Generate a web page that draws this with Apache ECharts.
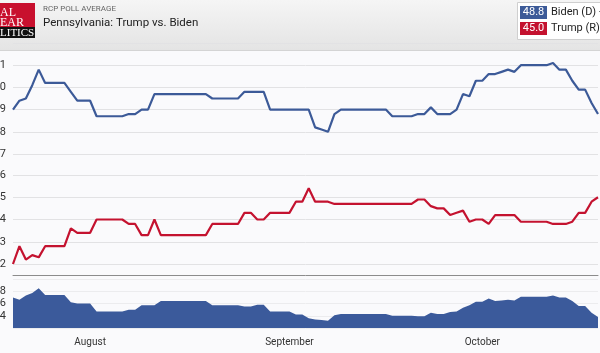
<!DOCTYPE html>
<html>
<head>
<meta charset="utf-8">
<script src="https://cdn.jsdelivr.net/npm/echarts@6/dist/echarts.min.js"></script>
<style>
    html, body { margin: 0; padding: 0; background: #fafafc; }
    #chart { width: 600px; height: 353px; }
</style>
</head>
<body>
<div id="chart"></div>
<script>
// one value per day, starting 2020-07-20
const startDate = "2020-07-20";
const bidenList = [
    49.0, 49.4, 49.5, 50.1, 50.8, 50.2, 50.2, 50.2, 50.2, 49.8,
    49.4, 49.4, 49.4, 48.7, 48.7, 48.7, 48.7, 48.7, 48.8, 48.8,
    49.0, 49.0, 49.7, 49.7, 49.7, 49.7, 49.7, 49.7, 49.7, 49.7,
    49.7, 49.5, 49.5, 49.5, 49.5, 49.5, 49.8, 49.8, 49.8, 49.8,
    49.0, 49.0, 49.0, 49.0, 49.0, 49.0, 49.0, 48.2, 48.1, 48.0,
    48.8, 49.0, 49.0, 49.0, 49.0, 49.0, 49.0, 49.0, 49.0, 48.7,
    48.7, 48.7, 48.7, 48.8, 48.8, 49.1, 48.8, 48.8, 48.8, 49.0,
    49.7, 49.6, 50.3, 50.3, 50.6, 50.6, 50.7, 50.8, 50.7, 51.0,
    51.0, 51.0, 51.0, 51.0, 51.1, 50.8, 50.8, 50.3, 49.9, 49.9,
    49.3, 48.8,
];
const trumpList = [
    42.0, 42.8, 42.2, 42.4, 42.3, 42.8, 42.8, 42.8, 42.8, 43.6,
    43.4, 43.4, 43.4, 44.0, 44.0, 44.0, 44.0, 44.0, 43.8, 43.8,
    43.3, 43.3, 44.0, 43.3, 43.3, 43.3, 43.3, 43.3, 43.3, 43.3,
    43.3, 43.8, 43.8, 43.8, 43.8, 43.8, 44.3, 44.3, 44.0, 44.0,
    44.3, 44.3, 44.3, 44.3, 44.8, 44.8, 45.4, 44.8, 44.8, 44.8,
    44.7, 44.7, 44.7, 44.7, 44.7, 44.7, 44.7, 44.7, 44.7, 44.7,
    44.7, 44.7, 44.7, 44.9, 44.9, 44.6, 44.5, 44.5, 44.2, 44.3,
    44.4, 43.9, 44.0, 44.0, 43.8, 44.2, 44.2, 44.2, 44.2, 43.9,
    43.9, 43.9, 43.9, 43.9, 43.8, 43.8, 43.8, 43.9, 44.3, 44.3,
    44.8, 45.0,
];
const spreadList = [
    7.0, 6.6, 7.3, 7.7, 8.5, 7.4, 7.4, 7.4, 7.4, 6.2,
    6.0, 6.0, 6.0, 4.7, 4.7, 4.7, 4.7, 4.7, 5.0, 5.0,
    5.7, 5.7, 5.7, 6.4, 6.4, 6.4, 6.4, 6.4, 6.4, 6.4,
    6.4, 5.7, 5.7, 5.7, 5.7, 5.7, 5.5, 5.5, 5.8, 5.8,
    4.7, 4.7, 4.7, 4.7, 4.2, 4.2, 3.6, 3.4, 3.3, 3.2,
    4.1, 4.3, 4.3, 4.3, 4.3, 4.3, 4.3, 4.3, 4.3, 4.0,
    4.0, 4.0, 4.0, 3.9, 3.9, 4.5, 4.3, 4.3, 4.6, 4.7,
    5.3, 5.7, 6.3, 6.3, 6.8, 6.4, 6.5, 6.6, 6.5, 7.1,
    7.1, 7.1, 7.1, 7.1, 7.3, 7.0, 7.0, 6.4, 5.6, 5.6,
    4.5, 3.8,
];
const monthNames = { "08": "August", "09": "September", "10": "October" };

const dateList = [];
const d0 = new Date(startDate + "T00:00:00Z");
for (let i = 0; i < bidenList.length; i++) {
    const d = new Date(d0.getTime() + i * 86400000);
    dateList.push(d.toISOString().slice(0, 10));
}

const blue = "#3c5a98";
const red = "#c4122f";
const font = "Roboto, 'Liberation Sans', sans-serif";
const lastBiden = bidenList[bidenList.length - 1];
const lastTrump = trumpList[trumpList.length - 1];
const lastSpread = spreadList[spreadList.length - 1];

const chart = echarts.init(document.getElementById("chart"));

const yLabel = { margin: 7, color: "#333", fontSize: 11, fontFamily: font };
const split = { lineStyle: { color: "#e2e2e4" } };

chart.setOption({
    animation: false,
    grid: [
        { left: 13, right: 2, top: 43, height: 111, outerBoundsMode: "none", containLabel: false },
        { left: 13, right: 2, top: 175, height: 89, outerBoundsMode: "none", containLabel: false },
        { left: 13, right: 2, top: 279, height: 49, outerBoundsMode: "none", containLabel: false },
    ],
    xAxis: [
        { type: "category", gridIndex: 0, data: dateList, boundaryGap: false, show: false },
        {
            type: "category",
            gridIndex: 1,
            data: dateList,
            boundaryGap: false,
            offset: 11,
            axisLine: { lineStyle: { color: "#8c8c8c" } },
            axisTick: { show: false },
            axisLabel: { show: false },
        },
        {
            type: "category",
            gridIndex: 2,
            data: dateList,
            boundaryGap: false,
            axisLine: { show: false },
            axisTick: { show: false },
            axisLabel: {
                margin: 9,
                color: "#333",
                fontSize: 10,
                fontFamily: font,
                interval: (idx, val) => val.slice(8) === "01",
                formatter: (val) => monthNames[val.slice(5, 7)] || "",
            },
        },
    ],
    yAxis: [
        {
            type: "value",
            gridIndex: 0,
            min: 47,
            max: 52,
            interval: 1,
            axisLabel: { ...yLabel, showMaxLabel: false },
            splitLine: split,
        },
        {
            type: "value",
            gridIndex: 1,
            min: 42,
            max: 46,
            interval: 1,
            axisLabel: yLabel,
            splitLine: split,
        },
        {
            type: "value",
            gridIndex: 2,
            min: 2,
            max: 10,
            interval: 2,
            axisLabel: { ...yLabel, showMinLabel: false, showMaxLabel: false },
            splitLine: { lineStyle: { color: "#ececee" } },
        },
    ],
    series: [
        {
            name: "Biden (D)",
            type: "line",
            xAxisIndex: 0,
            yAxisIndex: 0,
            data: bidenList,
            symbol: "none",
            lineStyle: { color: blue, width: 2.2 },
            itemStyle: { color: blue },
        },
        {
            name: "Trump (R)",
            type: "line",
            xAxisIndex: 1,
            yAxisIndex: 1,
            data: trumpList,
            symbol: "none",
            lineStyle: { color: red, width: 2.2 },
            itemStyle: { color: red },
        },
        {
            name: "Spread",
            type: "line",
            xAxisIndex: 2,
            yAxisIndex: 2,
            data: spreadList,
            symbol: "none",
            lineStyle: { width: 0 },
            itemStyle: { color: blue },
            areaStyle: { color: "#3b5a9b", opacity: 1 },
        },
    ],
    graphic: [
        {
            type: "group",
            z: 100,
            children: [
                {
                    type: "rect",
                    shape: { x: 0, y: 0, width: 600, height: 50 },
                    style: {
                        fill: new echarts.graphic.LinearGradient(0, 0, 0, 1, [
                            { offset: 0, color: "#f5f5f5" },
                            { offset: 1, color: "#e4e4e4" },
                        ]),
                    },
                },
                {
                    type: "line",
                    shape: { x1: 0, y1: 50.5, x2: 600, y2: 50.5 },
                    style: { stroke: "#d4d4d4", lineWidth: 1 },
                },
                // logo (cut at the left edge)
                { type: "rect", shape: { x: 0, y: 3, width: 35, height: 24 }, style: { fill: "#c8102e" } },
                { type: "rect", shape: { x: 0, y: 27, width: 35, height: 11 }, style: { fill: "#111" } },
                {
                    type: "text",
                    style: { text: "AL", x: 0, y: 13, fill: "#fff", font: "12px 'Liberation Serif', serif", textVerticalAlign: "middle" },
                },
                {
                    type: "text",
                    style: { text: "EAR", x: 0, y: 23, fill: "#fff", font: "12px 'Liberation Serif', serif", textVerticalAlign: "middle" },
                },
                {
                    type: "text",
                    style: { text: "LITICS", x: 0, y: 33, fill: "#fff", font: "11px 'Liberation Serif', serif", textVerticalAlign: "middle" },
                },
                {
                    type: "text",
                    style: { text: "RCP POLL AVERAGE", x: 43, y: 9, fill: "#666", font: "8px " + font, textVerticalAlign: "middle" },
                },
                {
                    type: "text",
                    style: { text: "Pennsylvania: Trump vs. Biden", x: 43, y: 23, fill: "#222", font: "11.5px " + font, textVerticalAlign: "middle" },
                },
                // legend box
                {
                    type: "rect",
                    shape: { x: 517.5, y: 2.5, width: 90, height: 37 },
                    style: { fill: "#fff", stroke: "#cfcfcf", lineWidth: 1 },
                },
                { type: "rect", shape: { x: 520, y: 6, width: 27, height: 13 }, style: { fill: blue } },
                { type: "rect", shape: { x: 520, y: 22, width: 27, height: 13 }, style: { fill: red } },
                {
                    type: "text",
                    style: { text: lastBiden.toFixed(1), x: 533.5, y: 12.5, fill: "#fff", font: "11px " + font, textAlign: "center", textVerticalAlign: "middle" },
                },
                {
                    type: "text",
                    style: { text: lastTrump.toFixed(1), x: 533.5, y: 28.5, fill: "#fff", font: "11px " + font, textAlign: "center", textVerticalAlign: "middle" },
                },
                {
                    type: "text",
                    style: { text: "Biden (D) +" + lastSpread.toFixed(1), x: 551, y: 12.5, fill: "#222", font: "11px " + font, textVerticalAlign: "middle" },
                },
                {
                    type: "text",
                    style: { text: "Trump (R)", x: 551, y: 28.5, fill: "#222", font: "11px " + font, textVerticalAlign: "middle" },
                },
            ],
        },
    ],
});
</script>
</body>
</html>
